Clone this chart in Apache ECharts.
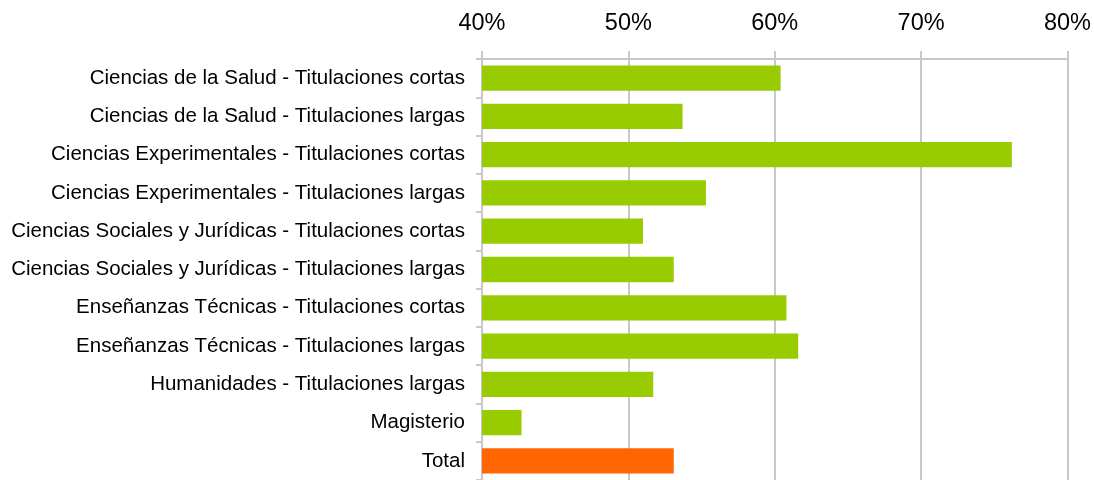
<!DOCTYPE html>
<html>
<head>
<meta charset="utf-8">
<script src="https://cdn.jsdelivr.net/npm/echarts@6/dist/echarts.min.js"></script>
<style>html,body{margin:0;padding:0;background:#fff}#c{width:1094px;height:480px}</style>
</head>
<body>
<div id="c"></div>
<script>
const categories = [
  "Ciencias de la Salud - Titulaciones cortas",
  "Ciencias de la Salud - Titulaciones largas",
  "Ciencias Experimentales - Titulaciones cortas",
  "Ciencias Experimentales - Titulaciones largas",
  "Ciencias Sociales y Jurídicas - Titulaciones cortas",
  "Ciencias Sociales y Jurídicas - Titulaciones largas",
  "Enseñanzas Técnicas - Titulaciones cortas",
  "Enseñanzas Técnicas - Titulaciones largas",
  "Humanidades - Titulaciones largas",
  "Magisterio",
  "Total"
];
const values = [60.4, 53.7, 76.2, 55.3, 51.0, 53.1, 60.8, 61.6, 51.7, 42.7, 53.1];
const barColors = ["#99CC00","#99CC00","#99CC00","#99CC00","#99CC00","#99CC00","#99CC00","#99CC00","#99CC00","#99CC00","#FF6600"];
const xTicks = [40, 50, 60, 70, 80];

const chart = echarts.init(document.getElementById('c'), null, {renderer: 'canvas'});
chart.setOption({
  animation: false,
  grid: {left: 482, right: 23, top: 59, height: 424, containLabel: false},
  xAxis: {
    type: 'value', position: 'top', min: xTicks[0], max: xTicks[xTicks.length-1], interval: 10,
    axisLine: {show: true, lineStyle: {color: '#c8c8c8', width: 2}},
    axisTick: {show: true, length: 8, lineStyle: {color: '#c8c8c8', width: 2}},
    splitLine: {show: true, lineStyle: {color: '#c8c8c8', width: 2}},
    axisLabel: {margin: 23, color: '#000', fontSize: 23.5, fontFamily: 'Liberation Sans, Arial, sans-serif', formatter: v => v + '%'}
  },
  yAxis: {
    type: 'category', data: categories, inverse: true,
    axisLine: {show: true, lineStyle: {color: '#c8c8c8', width: 2}},
    axisTick: {show: true, length: 6, lineStyle: {color: '#c8c8c8', width: 2}},
    axisLabel: {margin: 17, color: '#000', fontSize: 20.5, fontFamily: 'Liberation Sans, Arial, sans-serif'}
  },
  series: [{
    type: 'bar', barWidth: '66%',
    data: values.map((v, i) => ({value: v, itemStyle: {color: barColors[i]}}))
  }]
});
</script>
</body>
</html>
